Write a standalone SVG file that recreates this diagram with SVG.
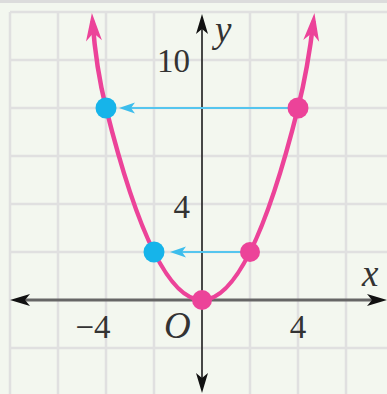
<svg xmlns="http://www.w3.org/2000/svg" width="387" height="394" viewBox="0 0 387 394">
  <style>
    .grid { stroke: #e0e0e0; stroke-width: 2.5; fill: none; }
    .lbl { font-family: "Liberation Serif", "DejaVu Serif", serif; fill: #333; }
    .num { font-size: 33px; }
    .var { font-size: 37px; font-style: italic; }
    .pink { fill: #ec4399; }
    .cyan { fill: #16b4ea; }
    .proj { stroke: #55c5ee; stroke-width: 2; fill: none; }
  </style>
  <defs>
    <marker id="ah-black" viewBox="-22 -8 24 16" refX="-10" refY="0" markerWidth="24" markerHeight="16" markerUnits="userSpaceOnUse" orient="auto-start-reverse">
      <path d="M0,0 L-20,-6 L-15,0 L-20,6 Z" fill="#111"/>
    </marker>
    <marker id="ah-pink" viewBox="-30 -10 32 20" refX="-8" refY="0" markerWidth="32" markerHeight="20" markerUnits="userSpaceOnUse" orient="auto-start-reverse">
      <path d="M0,0 L-28,-8 L-20,0 L-28,8 Z" fill="#ec4399"/>
    </marker>
    <marker id="ah-cyan" viewBox="-18 -7 20 14" refX="-6" refY="0" markerWidth="20" markerHeight="14" markerUnits="userSpaceOnUse" orient="auto">
      <path d="M0,0 L-16,-5.5 L-12,0 L-16,5.5 Z" fill="#3cbdec"/>
    </marker>
  </defs>

  <rect x="0" y="0" width="387" height="394" fill="#f3f7ef"/>
  <rect x="0" y="0" width="387" height="3" fill="#dcdcdc"/>

  <g id="grid" class="grid">
    <path d="M10,12 V394 M58,12 V394 M106,12 V394 M154,12 V394 M250,12 V394 M298,12 V394 M346,12 V394"/>
    <path d="M10,12 H387 M10,60 H387 M10,108 H387 M10,156 H387 M10,204 H387 M10,252 H387 M10,348 H387"/>
  </g>

  <g id="axes">
    <line x1="20" y1="300" x2="377" y2="300" stroke="#666" stroke-width="3" marker-start="url(#ah-black)" marker-end="url(#ah-black)"/>
    <line x1="202" y1="24" x2="202" y2="383" stroke="#333" stroke-width="1.8" marker-start="url(#ah-black)" marker-end="url(#ah-black)"/>
  </g>

  <g id="labels" class="lbl">
    <text class="num" x="190" y="72" text-anchor="end">10</text>
    <text class="num" x="190" y="218" text-anchor="end">4</text>
    <text class="num" x="93" y="338" text-anchor="middle">−4</text>
    <text class="num" x="298" y="338" text-anchor="middle">4</text>
    <text class="var" x="164" y="338">O</text>
    <text class="var" x="215" y="42">y</text>
    <text class="var" x="362" y="286">x</text>
  </g>

  <g id="curve">
    <path d="M92.5,21 Q96,68 106,108 Q202,492 298,108 Q308,68 313.5,21" fill="none" stroke="#ec4399" stroke-width="4.5" marker-start="url(#ah-pink)" marker-end="url(#ah-pink)"/>
  </g>

  <g id="connectors">
    <line class="proj" x1="298" y1="108" x2="125" y2="108" marker-end="url(#ah-cyan)"/>
    <line class="proj" x1="250" y1="252" x2="176" y2="252" marker-end="url(#ah-cyan)"/>
  </g>

  <g id="point-origin"><circle class="pink" cx="202" cy="300" r="10"/></g>
  <g id="point-2-2"><circle class="pink" cx="250" cy="252" r="10"/></g>
  <g id="point-4-8"><circle class="pink" cx="298" cy="108" r="10.5"/></g>
  <g id="point-m2-2"><circle class="cyan" cx="154" cy="252" r="10.5"/></g>
  <g id="point-m4-8"><circle class="cyan" cx="106" cy="108" r="10.5"/></g>
</svg>
